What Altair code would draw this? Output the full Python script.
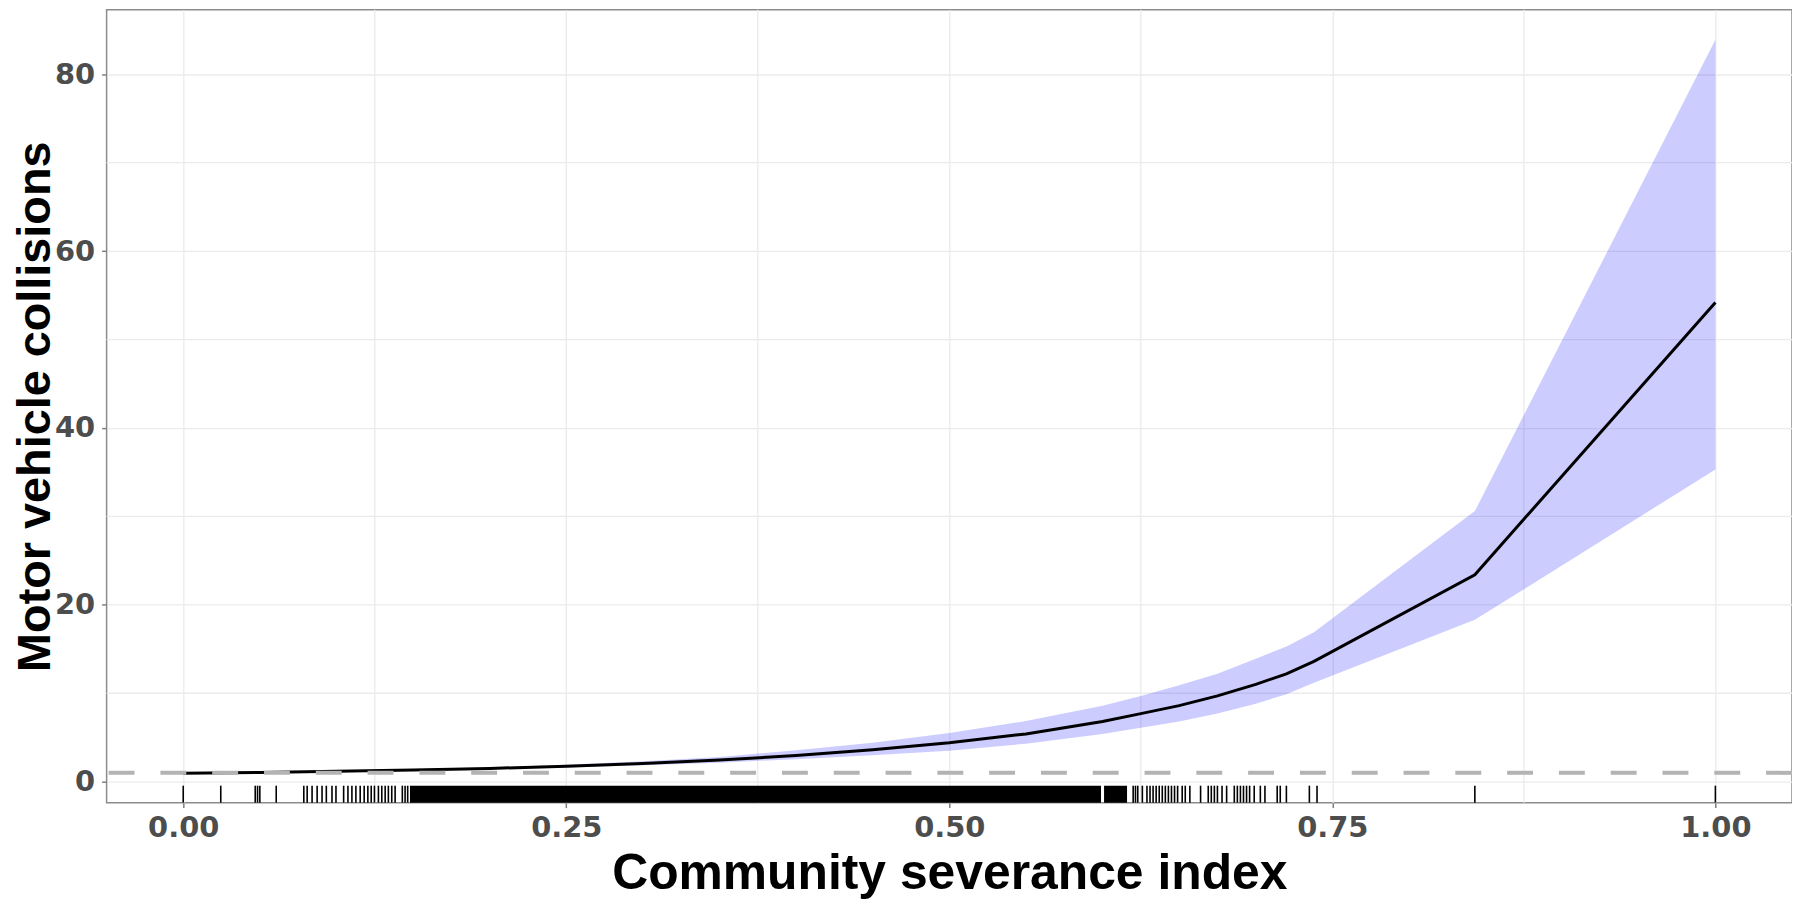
import altair as alt
import pandas as pd

# ---- data ----
curve_x = [0.00, 0.05, 0.10, 0.15, 0.20, 0.25, 0.30, 0.35, 0.40, 0.45, 0.50,
           0.55, 0.60, 0.625, 0.65, 0.675, 0.70, 0.72, 0.738, 0.843, 1.00]
curve_fit = [0.95, 1.05, 1.17, 1.32, 1.50, 1.75, 2.05, 2.45, 2.95, 3.60, 4.40,
             5.40, 6.80, 7.70, 8.60, 9.70, 11.0, 12.2, 13.6, 23.4, 54.2]
curve_lo = [0.88, 0.98, 1.10, 1.24, 1.40, 1.60, 1.85, 2.15, 2.55, 3.00, 3.50,
            4.30, 5.40, 6.10, 6.80, 7.70, 8.80, 9.90, 11.2, 18.3, 35.3]
curve_hi = [1.02, 1.12, 1.25, 1.41, 1.62, 1.92, 2.30, 2.80, 3.55, 4.40, 5.50,
            6.85, 8.60, 9.70, 10.9, 12.2, 13.9, 15.3, 16.9, 30.6, 83.9]

rug_ticks = [0.0, 0.0245, 0.047, 0.0485, 0.050, 0.0607, 0.0787, 0.0809, 0.0841,
             0.0874, 0.0906, 0.0934, 0.0971, 0.0997, 0.1047, 0.1075, 0.1101,
             0.1127, 0.1155, 0.1181, 0.1205, 0.1227, 0.1248, 0.1274, 0.1296,
             0.1318, 0.1339, 0.1361, 0.1383, 0.1430, 0.1448, 0.1465,
             0.620, 0.6215, 0.623, 0.626, 0.629, 0.631, 0.633, 0.635, 0.637,
             0.639, 0.641, 0.643, 0.645, 0.647, 0.649, 0.652, 0.654, 0.657,
             0.664, 0.669, 0.671, 0.673, 0.675, 0.678, 0.681, 0.686, 0.688,
             0.690, 0.692, 0.694, 0.696, 0.699, 0.703, 0.706, 0.714, 0.716,
             0.720, 0.735, 0.740, 0.843, 1.0]
rug_band_start = [0.148, 0.601]
rug_band_end = [0.599, 0.616]

x_major = [0.0, 0.25, 0.50, 0.75, 1.0]
x_minor = [0.125, 0.375, 0.625, 0.875]
y_major = [0, 20, 40, 60, 80]
y_minor = [10, 30, 50, 70]
ref_line = [1]

x_title = "Community severance index"
y_title = "Motor vehicle collisions"

# ---- layout ----
W = 1692
H = 796
RUG = 17

x_scale = alt.Scale(domain=[-0.05, 1.05], nice=False, zero=False)
y_scale = alt.Scale(domain=[-2.37, 87.3], nice=False, zero=False)

x_axis = alt.Axis(values=x_major, format=".2f", title=x_title, grid=True,
                  titleY=86, titleBaseline="alphabetic", labelFlush=False,
                  labelPadding=6, titleFontSize=50)
y_axis = alt.Axis(values=y_major, format="d", title=y_title, grid=True,
                  titleX=-57, titleY=H / 2, titleBaseline="alphabetic",
                  labelPadding=7, titleFontSize=47)


def X(field):
    return alt.X(f"{field}:Q", scale=x_scale, axis=x_axis, title=x_title)


def Y(field):
    return alt.Y(f"{field}:Q", scale=y_scale, axis=y_axis, title=y_title)


curve = pd.DataFrame({"x": curve_x, "fit": curve_fit, "lo": curve_lo, "hi": curve_hi})

minor_x = alt.Chart(pd.DataFrame({"x": x_minor})).mark_rule(
    color="#ebebeb", strokeWidth=1.3).encode(x=X("x"))
minor_y = alt.Chart(pd.DataFrame({"y": y_minor})).mark_rule(
    color="#ebebeb", strokeWidth=1.3).encode(y=Y("y"))

ribbon = alt.Chart(curve).mark_area(color="blue", opacity=0.2).encode(
    x=X("x"), y=Y("lo"), y2="hi:Q")
line = alt.Chart(curve).mark_line(color="black", strokeWidth=3).encode(
    x=X("x"), y=Y("fit"))
dashed = alt.Chart(pd.DataFrame({"y": ref_line})).mark_rule(
    color="#b3b3b3", strokeWidth=4, strokeDash=[26, 26]).encode(y=Y("y"))

rug = alt.Chart(pd.DataFrame({"x": rug_ticks})).mark_rule(
    color="black", strokeWidth=1.6).encode(
    x=X("x"), y=alt.value(H - RUG), y2=alt.value(H))
rug_band = alt.Chart(pd.DataFrame({"x": rug_band_start, "x2": rug_band_end})).mark_rect(
    color="black").encode(
    x=X("x"), x2="x2:Q", y=alt.value(H - RUG), y2=alt.value(H))

chart = alt.layer(minor_x, minor_y, ribbon, line, dashed, rug, rug_band).properties(
    width=W, height=H,
    autosize=alt.AutoSizeParams(type="none"),
    padding={"left": 99, "top": 0, "right": 0, "bottom": 96},
    background="white",
).configure_view(
    stroke="#8c8c8c", strokeWidth=1.5
).configure_axis(
    domain=False,
    gridColor="#ebebeb", gridWidth=1.3,
    tickColor="#7f7f7f", tickSize=5, tickWidth=1.5,
    labelFont="DejaVu Sans", labelFontSize=29, labelFontWeight="bold",
    labelColor="#4d4d4d",
    titleFont="Liberation Sans", titleFontWeight="bold",
    titleColor="black",
)

chart.save("out.html", embed_options={"renderer": "svg", "actions": False})
